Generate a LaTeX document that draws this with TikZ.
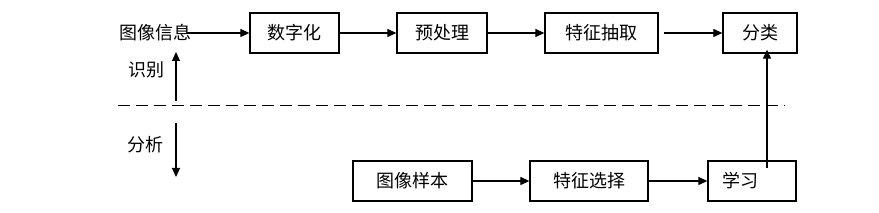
\documentclass[tikz,border=0pt]{standalone}
\usepackage{fontspec}
\setmainfont{Noto Sans CJK SC}
\usetikzlibrary{arrows.meta}
\begin{document}
\begin{tikzpicture}[x=1pt,y=-1pt,
  box/.style={draw,line width=1.3pt,minimum height=40pt,inner sep=0pt,font=\fontsize{18pt}{20pt}\selectfont},
  lbl/.style={inner sep=0pt,font=\fontsize{18pt}{20pt}\selectfont},
  arr/.style={line width=1.2pt,-{Triangle[length=9pt,width=8pt]}},
  every node/.style={anchor=center}]
\useasboundingbox (0,0) rectangle (879,213);
\node[lbl] (info) at (155,33) {图像信息};
\node[box,minimum width=89pt] (digit) at (294.5,33) {数字化};
\node[box,minimum width=90pt] (pre) at (442,33) {预处理};
\node[box,minimum width=113pt] (feat) at (601.5,33) {特征抽取};
\node[box,minimum width=74pt] (cls) at (760,33) {分类};
\node[lbl] (recog) at (146,70) {识别};
\node[lbl] (anal) at (145,145) {分析};
\node[box,minimum width=119pt] (sample) at (412.5,181) {图像样本};
\node[box,minimum width=118pt] (sel) at (589,181) {特征选择};
\node[box,minimum width=88pt] (learn) at (752,181) {};
\node[lbl] (learntxt) at (740,181) {学习};
\coordinate (dl) at (118,106);
\coordinate (dr) at (785,106);
\coordinate (upS) at (176,101);
\coordinate (upE) at (176,52);
\coordinate (dnS) at (176,123);
\coordinate (dnE) at (176,177);
\coordinate (lin) at (767,168);
\draw[line width=1pt,dash pattern=on 12pt off 6pt] (dl) -- (dr);
\draw[arr] (info.east) ++(-4,0) -- (digit.west);
\draw[arr] (digit.east) -- (pre.west);
\draw[arr] (pre.east) -- (feat.west);
\draw[arr] ([xshift=5pt]feat.east) -- (cls.west);
\draw[arr] (sample.east) -- (sel.west);
\draw[arr] (sel.east) -- (learn.west);
\draw[arr] (lin) -- ([yshift=4pt]cls.south -| lin);
\draw[arr] (upS) -- (upE);
\draw[arr] (dnS) -- (dnE);
\end{tikzpicture}
\end{document}
